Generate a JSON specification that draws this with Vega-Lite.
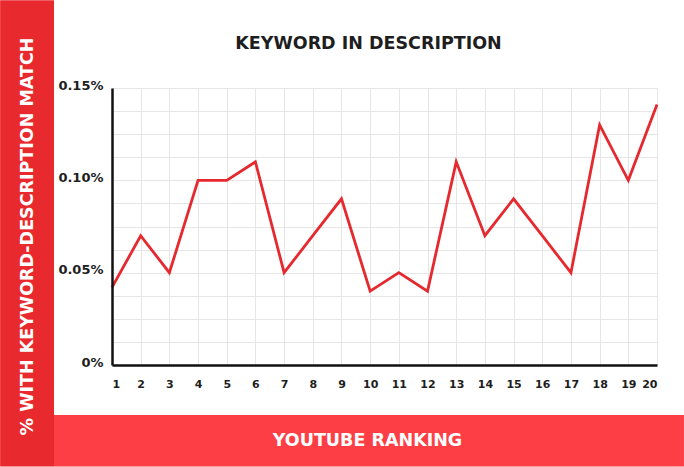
{
  "$schema": "https://vega.github.io/schema/vega-lite/v6.json",
  "width": 545,
  "height": 277,
  "autosize": {"type": "none"},
  "padding": {"left": 112, "top": 88, "right": 27, "bottom": 102},
  "background": "white",
  "title": {
    "text": "KEYWORD IN DESCRIPTION",
    "frame": "group",
    "anchor": "middle",
    "dx": -16,
    "offset": -66,
    "baseline": "alphabetic",
    "font": "DejaVu Sans",
    "fontWeight": "bold",
    "fontSize": 17.5,
    "color": "#1e1e1e"
  },
  "config": {
    "view": {"stroke": null},
    "axis": {"labelFont": "DejaVu Sans", "titleFont": "DejaVu Sans"}
  },
  "resolve": {"axis": {"x": "independent", "y": "independent"}},
  "layer": [
    {
      "data": {"values": [{}]},
      "mark": {"type": "rect", "color": "#e8292e"},
      "encoding": {
        "x": {
          "datum": -2.9,
          "type": "quantitative",
          "scale": {"domain": [1, 20], "nice": false, "zero": false},
          "axis": {
            "orient": "bottom",
            "values": [1, 2, 3, 4, 5, 6, 7, 8, 9, 10, 11, 12, 13, 14, 15, 16, 17, 18, 19, 20],
            "grid": false,
            "ticks": false,
            "domainColor": "#111",
            "domainWidth": 2.5,
            "labelFontSize": 11,
            "labelFontWeight": "bold",
            "labelColor": "#1e1e1e",
            "labelPadding": 13,
            "title": "YOUTUBE RANKING",
            "titleColor": "white",
            "titleFontSize": 17.5,
            "titleFontWeight": "bold",
            "titleX": 255,
            "titleY": 75,
            "titleBaseline": "middle",
            "titleAlign": "center",
            "zindex": 1
          }
        },
        "x2": {"datum": -1.022},
        "y": {
          "datum": -0.055,
          "type": "quantitative",
          "scale": {"domain": [0, 0.15], "nice": false, "zero": false},
          "axis": {
            "orient": "left",
            "values": [0, 0.05, 0.1, 0.15],
            "labelExpr": "datum.value == 0 ? '0%' : format(datum.value, '.2f') + '%'",
            "grid": false,
            "ticks": false,
            "domainColor": "#111",
            "domainWidth": 2.5,
            "labelFontSize": 13,
            "labelFontWeight": "bold",
            "labelColor": "#1e1e1e",
            "labelPadding": 9,
            "labelOffset": -3,
            "title": "% WITH KEYWORD-DESCRIPTION MATCH",
            "titleColor": "white",
            "titleFontSize": 17.5,
            "titleFontWeight": "bold",
            "titleAngle": -90,
            "titleX": -85,
            "titleY": 148,
            "titleBaseline": "middle",
            "titleAlign": "center",
            "zindex": 1
          }
        },
        "y2": {"datum": 0.1975}
      }
    },
    {
      "data": {"values": [{}]},
      "mark": {"type": "rect", "color": "#fd3f45"},
      "encoding": {
        "x": {"datum": -1.022, "type": "quantitative", "axis": null},
        "x2": {"datum": 20.94},
        "y": {"datum": -0.0271, "type": "quantitative", "axis": null},
        "y2": {"datum": -0.055}
      }
    },
    {
      "data": {
        "values": [
          {"rank": 1, "pct": 0.042},
          {"rank": 2, "pct": 0.07},
          {"rank": 3, "pct": 0.05},
          {"rank": 4, "pct": 0.1},
          {"rank": 5, "pct": 0.1},
          {"rank": 6, "pct": 0.11},
          {"rank": 7, "pct": 0.05},
          {"rank": 8, "pct": 0.07},
          {"rank": 9, "pct": 0.09},
          {"rank": 10, "pct": 0.04},
          {"rank": 11, "pct": 0.05},
          {"rank": 12, "pct": 0.04},
          {"rank": 13, "pct": 0.11},
          {"rank": 14, "pct": 0.07},
          {"rank": 15, "pct": 0.09},
          {"rank": 16, "pct": 0.07},
          {"rank": 17, "pct": 0.05},
          {"rank": 18, "pct": 0.13},
          {"rank": 19, "pct": 0.1},
          {"rank": 20, "pct": 0.141}
        ]
      },
      "mark": {"type": "line", "color": "#e5292f", "strokeWidth": 2.8, "strokeJoin": "miter"},
      "encoding": {
        "x": {
          "field": "rank",
          "type": "quantitative",
          "axis": {
            "orient": "bottom",
            "values": [1, 2, 3, 4, 5, 6, 7, 8, 9, 10, 11, 12, 13, 14, 15, 16, 17, 18, 19, 20],
            "grid": true,
            "gridColor": "#e6e6e6",
            "gridWidth": 1,
            "labels": false,
            "ticks": false,
            "domain": false,
            "title": null,
            "zindex": 0
          }
        },
        "y": {
          "field": "pct",
          "type": "quantitative",
          "axis": {
            "orient": "left",
            "values": [0, 0.0125, 0.025, 0.0375, 0.05, 0.0625, 0.075, 0.0875, 0.1, 0.1125, 0.125, 0.1375, 0.15],
            "grid": true,
            "gridColor": "#e6e6e6",
            "gridWidth": 1,
            "labels": false,
            "ticks": false,
            "domain": false,
            "title": null,
            "zindex": 0
          }
        }
      }
    }
  ]
}
